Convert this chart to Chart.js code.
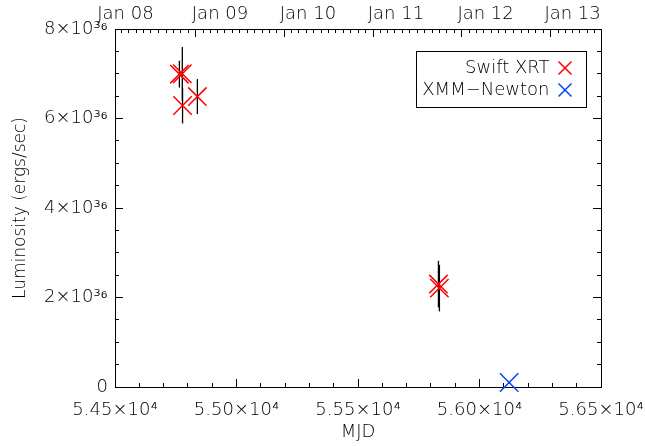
<!DOCTYPE html>
<html lang="en">
<head>
<meta charset="UTF-8">
<title>Luminosity vs MJD</title>
<script src="https://cdn.jsdelivr.net/npm/chart.js@4/dist/chart.umd.min.js"></script>
<style>
  body { margin: 0; background: #fff; }
  #wrap { width: 645px; height: 446px; }
</style>
</head>
<body>
<div id="wrap"><canvas id="myChart"></canvas></div>
<script>
  // luminosity in units of 1e36 erg/s
  const swiftMjd = [54765, 54777, 54778, 54839, 55831, 55835];
  const swiftLum = [6.99, 7.00, 6.29, 6.49, 2.30, 2.21];
  const swiftErr = [0.30, 0.60, 0.40, 0.39, 0.52, 0.52];

  const xmmMjd = [56122];
  const xmmLum = [0.10];
  const xmmErr = [0.02];

  const xTickValues = [54500, 55000, 55500, 56000, 56500];
  const xTickLabels = ['5.45×10⁴', '5.50×10⁴', '5.55×10⁴', '5.60×10⁴', '5.65×10⁴'];
  const yTickValues = [0, 2, 4, 6, 8];
  const yTickLabels = ['0', '2×10³⁶', '4×10³⁶', '6×10³⁶', '8×10³⁶'];
  const topTickLabels = ['Jan 08', 'Jan 09', 'Jan 10', 'Jan 11', 'Jan 12', 'Jan 13'];
  const topLabelMjd = [54543, 54932, 55294, 55656, 56025, 56383];

  const X_MIN = 54500, X_MAX = 56500, Y_MIN = 0, Y_MAX = 8;

  // calendar month starts as MJD, for the top axis tick marks
  function mjdOf(year, month) {
    return Date.UTC(year, month, 1) / 86400000 + 40587;
  }
  const janTicks = [];
  const monthTicks = [];
  for (let y = 2008; y <= 2014; y++) {
    janTicks.push(mjdOf(y, 0));
    for (let m = 0; m < 12; m++) monthTicks.push(mjdOf(y, m));
  }
  function steps(from, to, step) {
    const out = [];
    for (let v = from; v <= to + 1e-9; v += step) out.push(v);
    return out;
  }

  function setTicks(values) {
    return (scale) => {
      scale.ticks = values.filter(v => v >= scale.min && v <= scale.max).map(v => ({ value: v }));
    };
  }

  // axis carrying only inward tick marks, pinned to a border value
  function markAxis(pos, min, max, values, len) {
    return {
      type: 'linear', position: pos, min: min, max: max,
      afterBuildTicks: setTicks(values),
      ticks: { display: false },
      grid: { drawOnChartArea: false, color: '#000', tickLength: len, lineWidth: 1 },
      border: { display: false }
    };
  }

  Chart.defaults.font.family = "'DejaVu Sans', sans-serif";
  Chart.defaults.font.size = 18;
  Chart.defaults.font.weight = 200;
  Chart.defaults.color = '#000';

  const datasets = [
    {
      label: 'Swift XRT',
      data: swiftMjd.map((m, i) => ({ x: m, y: swiftLum[i] })),
      pointStyle: 'crossRot', pointRadius: 13, pointBorderWidth: 1.5,
      borderColor: '#ff0000', backgroundColor: '#ff0000', pointBorderColor: '#ff0000',
      borderWidth: 1.5, showLine: false, clip: false
    },
    {
      label: 'XMM−Newton',
      data: xmmMjd.map((m, i) => ({ x: m, y: xmmLum[i] })),
      pointStyle: 'crossRot', pointRadius: 13, pointBorderWidth: 1.5,
      borderColor: '#0044ff', backgroundColor: '#0044ff', pointBorderColor: '#0044ff',
      borderWidth: 1.5, showLine: false, clip: false
    }
  ];

  function addErrorBars(mjd, lum, err) {
    mjd.forEach((m, i) => {
      datasets.push({
        label: '',
        data: [{ x: m, y: lum[i] - err[i] }, { x: m, y: lum[i] + err[i] }],
        borderColor: '#000', borderWidth: 1.3, pointRadius: 0, showLine: true
      });
    });
  }
  addErrorBars(swiftMjd, swiftLum, swiftErr);
  addErrorBars(xmmMjd, xmmLum, xmmErr);

  const legendFrame = {
    id: 'legendFrame',
    afterLayout(chart) {
      const lg = chart.legend, ca = chart.chartArea;
      lg.right = ca.right - 25.5;
      lg.width = 160;
      lg.left = lg.right - lg.width;
      lg.top = ca.top + 26;
      lg.height = 60;
      lg.bottom = lg.top + lg.height;
    },
    afterDraw(chart) {
      const ca = chart.chartArea, ctx = chart.ctx;
      ctx.save();
      ctx.strokeStyle = '#000';
      ctx.lineWidth = 1;
      ctx.strokeRect(Math.round(ca.right - 185) + 0.5, Math.round(ca.top + 22) + 0.5, 170, 56);
      ctx.restore();
    }
  };

  function noSidePadding(s) {
    s.paddingLeft = 0;
    s.paddingRight = 0;
  }

  new Chart(document.getElementById('myChart'), {
    type: 'scatter',
    data: { datasets: datasets },
    options: {
      responsive: true,
      maintainAspectRatio: false,
      animation: false,
      events: [],
      layout: { padding: { left: 0, right: 44, top: 0, bottom: 0 } },
      plugins: {
        tooltip: { enabled: false },
        legend: {
          position: 'chartArea',
          align: 'start',
          rtl: true,
          labels: {
            usePointStyle: true, boxWidth: 13, boxHeight: 13, padding: 4,
            color: '#000',
            filter: (item) => item.text !== ''
          }
        }
      },
      scales: {
        x: {
          type: 'linear', position: 'bottom', min: X_MIN, max: X_MAX,
          afterBuildTicks: setTicks(xTickValues),
          ticks: { callback: (v, i) => xTickLabels[i], padding: 21, maxRotation: 0, autoSkip: false },
          grid: { drawOnChartArea: false, color: '#000', tickLength: -8 },
          border: { display: true, color: '#000', width: 1 },
          title: { display: true, text: 'MJD', padding: { top: 0, bottom: 3 } },
          afterFit: (s) => { s.height = 59; noSidePadding(s); }
        },
        y: {
          type: 'linear', position: 'left', min: Y_MIN, max: Y_MAX,
          afterBuildTicks: setTicks(yTickValues),
          ticks: { callback: (v, i) => yTickLabels[i], padding: 15, autoSkip: false },
          grid: { drawOnChartArea: false, color: '#000', tickLength: -8 },
          border: { display: true, color: '#000', width: 1 },
          title: { display: true, text: 'Luminosity (ergs/sec)', font: { size: 17 }, padding: { top: 10, bottom: 0 } },
          afterFit: (s) => { s.width = 115; }
        },
        xTop: {
          type: 'linear', position: 'top', min: X_MIN, max: X_MAX,
          afterBuildTicks: setTicks(topLabelMjd),
          ticks: { callback: (v, i) => topTickLabels[i], padding: 4, maxRotation: 0, autoSkip: false },
          grid: { display: false, drawTicks: false },
          border: { display: true, color: '#000', width: 1 },
          afterFit: (s) => { s.height = 29; noSidePadding(s); }
        },
        xMinor: markAxis({ y: Y_MIN }, X_MIN, X_MAX, steps(X_MIN, X_MAX, 100), -4),
        xTopMajor: markAxis({ y: Y_MAX }, X_MIN, X_MAX, janTicks, 8),
        xTopMinor: markAxis({ y: Y_MAX }, X_MIN, X_MAX, monthTicks, 4),
        yMinor: markAxis({ x: X_MIN }, Y_MIN, Y_MAX, steps(Y_MIN, Y_MAX, 0.5), -4),
        yRight: Object.assign(markAxis({ x: X_MAX }, Y_MIN, Y_MAX, yTickValues, 8),
          { border: { display: true, color: '#000', width: 1 } }),
        yRightMinor: markAxis({ x: X_MAX }, Y_MIN, Y_MAX, steps(Y_MIN, Y_MAX, 0.5), 4)
      }
    },
    plugins: [legendFrame]
  });
</script>
</body>
</html>
